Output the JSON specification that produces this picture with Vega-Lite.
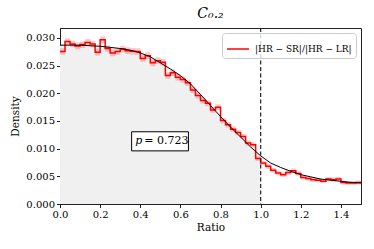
{
  "$schema": "https://vega.github.io/schema/vega-lite/v6.json",
  "width": 301,
  "height": 176,
  "autosize": {"type": "none"},
  "padding": {"left": 60, "top": 28, "right": 13, "bottom": 45},
  "background": "white",
  "title": {"text": "C₀.₂", "font": "DejaVu Serif", "fontStyle": "italic", "fontSize": 14, "fontWeight": "normal", "color": "black", "offset": 6},
  "config": {
    "font": "DejaVu Serif",
    "view": {"stroke": "#222222", "strokeWidth": 1},
    "axis": {"labelFont": "DejaVu Serif", "titleFont": "DejaVu Serif", "labelFontSize": 10, "titleFontSize": 10.5, "titleFontWeight": "normal", "labelColor": "black", "titleColor": "black", "tickColor": "#222222", "domainColor": "#222222", "tickSize": 3.5, "grid": false, "labelPadding": 2, "labelOverlap": false, "labelFlush": false},
    "legend": {"labelFont": "DejaVu Serif", "labelFontSize": 9, "labelColor": "black"}
  },
  "datasets": {
    "hist": [
      {"x": 0.000, "v": 0.02755, "err": 0.0006},
      {"x": 0.025, "v": 0.02935, "err": 0.0006},
      {"x": 0.050, "v": 0.0289, "err": 0.0006},
      {"x": 0.075, "v": 0.02857, "err": 0.0006},
      {"x": 0.100, "v": 0.0288, "err": 0.0006},
      {"x": 0.125, "v": 0.0292, "err": 0.0006},
      {"x": 0.150, "v": 0.0289, "err": 0.0006},
      {"x": 0.175, "v": 0.02744, "err": 0.0006},
      {"x": 0.200, "v": 0.02966, "err": 0.0006},
      {"x": 0.225, "v": 0.0281, "err": 0.0006},
      {"x": 0.250, "v": 0.0273, "err": 0.0006},
      {"x": 0.275, "v": 0.02755, "err": 0.0006},
      {"x": 0.300, "v": 0.0280, "err": 0.0006},
      {"x": 0.325, "v": 0.0277, "err": 0.0006},
      {"x": 0.350, "v": 0.0276, "err": 0.0006},
      {"x": 0.375, "v": 0.02755, "err": 0.0006},
      {"x": 0.400, "v": 0.0263, "err": 0.0006},
      {"x": 0.425, "v": 0.0268, "err": 0.0006},
      {"x": 0.450, "v": 0.0255, "err": 0.0006},
      {"x": 0.475, "v": 0.0259, "err": 0.0006},
      {"x": 0.500, "v": 0.0256, "err": 0.0006},
      {"x": 0.525, "v": 0.0232, "err": 0.00058},
      {"x": 0.550, "v": 0.0237, "err": 0.00058},
      {"x": 0.575, "v": 0.0229, "err": 0.00057},
      {"x": 0.600, "v": 0.0225, "err": 0.00057},
      {"x": 0.625, "v": 0.0219, "err": 0.00056},
      {"x": 0.650, "v": 0.0206, "err": 0.00055},
      {"x": 0.675, "v": 0.0196, "err": 0.00055},
      {"x": 0.700, "v": 0.0187, "err": 0.00054},
      {"x": 0.725, "v": 0.0182, "err": 0.00054},
      {"x": 0.750, "v": 0.0170, "err": 0.00053},
      {"x": 0.775, "v": 0.0175, "err": 0.00053},
      {"x": 0.800, "v": 0.0151, "err": 0.0005},
      {"x": 0.825, "v": 0.0143, "err": 0.0005},
      {"x": 0.850, "v": 0.0135, "err": 0.00049},
      {"x": 0.875, "v": 0.0129, "err": 0.00048},
      {"x": 0.900, "v": 0.0122, "err": 0.00047},
      {"x": 0.925, "v": 0.0110, "err": 0.00046},
      {"x": 0.950, "v": 0.0107, "err": 0.00045},
      {"x": 0.975, "v": 0.0082, "err": 0.00043},
      {"x": 1.000, "v": 0.0074, "err": 0.00042},
      {"x": 1.025, "v": 0.0068, "err": 0.00041},
      {"x": 1.050, "v": 0.0061, "err": 0.0004},
      {"x": 1.075, "v": 0.0056, "err": 0.0004},
      {"x": 1.100, "v": 0.0053, "err": 0.0004},
      {"x": 1.125, "v": 0.0057, "err": 0.0004},
      {"x": 1.150, "v": 0.0060, "err": 0.0004},
      {"x": 1.175, "v": 0.0055, "err": 0.0004},
      {"x": 1.200, "v": 0.0048, "err": 0.00038},
      {"x": 1.225, "v": 0.0046, "err": 0.00038},
      {"x": 1.250, "v": 0.0044, "err": 0.00038},
      {"x": 1.275, "v": 0.0043, "err": 0.00038},
      {"x": 1.300, "v": 0.0041, "err": 0.00037},
      {"x": 1.325, "v": 0.0045, "err": 0.00038},
      {"x": 1.350, "v": 0.0044, "err": 0.00038},
      {"x": 1.375, "v": 0.0045, "err": 0.00038},
      {"x": 1.400, "v": 0.0039, "err": 0.00036},
      {"x": 1.425, "v": 0.0038, "err": 0.00036},
      {"x": 1.450, "v": 0.0038, "err": 0.00036},
      {"x": 1.475, "v": 0.0039, "err": 0.00036},
      {"x": 1.500, "v": 0.0039, "err": 0.00036}
    ],
    "curve": [
      {"x": 0.0, "y": 0.0287},
      {"x": 0.05, "y": 0.0287},
      {"x": 0.1, "y": 0.0287},
      {"x": 0.15, "y": 0.0286},
      {"x": 0.2, "y": 0.0285},
      {"x": 0.25, "y": 0.0283},
      {"x": 0.3, "y": 0.0281},
      {"x": 0.35, "y": 0.0278},
      {"x": 0.4, "y": 0.0273},
      {"x": 0.45, "y": 0.0266},
      {"x": 0.5, "y": 0.0255},
      {"x": 0.55, "y": 0.0244},
      {"x": 0.6, "y": 0.0232},
      {"x": 0.65, "y": 0.0217},
      {"x": 0.7, "y": 0.0198},
      {"x": 0.75, "y": 0.0178},
      {"x": 0.8, "y": 0.0158},
      {"x": 0.85, "y": 0.0139},
      {"x": 0.9, "y": 0.0121},
      {"x": 0.95, "y": 0.0103},
      {"x": 1.0, "y": 0.0087},
      {"x": 1.05, "y": 0.0074},
      {"x": 1.1, "y": 0.0066},
      {"x": 1.15, "y": 0.0059},
      {"x": 1.2, "y": 0.0053},
      {"x": 1.25, "y": 0.0049},
      {"x": 1.3, "y": 0.0045},
      {"x": 1.35, "y": 0.0043},
      {"x": 1.4, "y": 0.0041},
      {"x": 1.45, "y": 0.0039},
      {"x": 1.5, "y": 0.0038}
    ],
    "one": [{"label": "p = 0.723"}]
  },
  "layer": [
    {
      "data": {"name": "curve"},
      "transform": [{"filter": "datum.x <= 1.0"}],
      "mark": {"type": "area", "color": "#f0f0f0", "opacity": 1},
      "encoding": {
        "x": {"field": "x", "type": "quantitative", "title": "Ratio", "scale": {"domain": [0, 1.5], "nice": false}, "axis": {"values": [0, 0.2, 0.4, 0.6, 0.8, 1.0, 1.2, 1.4], "format": ".1f", "titlePadding": 3}},
        "y": {"field": "y", "type": "quantitative", "title": "Density", "scale": {"domain": [0, 0.0318], "nice": false, "zero": true}, "axis": {"values": [0, 0.005, 0.01, 0.015, 0.02, 0.025, 0.03], "format": ".3f", "titlePadding": 5, "tickCount": 7}}
      }
    },
    {
      "data": {"name": "hist"},
      "mark": {"type": "errorband", "interpolate": "step-after", "color": "#ff0000", "opacity": 0.22},
      "encoding": {
        "x": {"field": "x", "type": "quantitative", "title": "Ratio"},
        "y": {"field": "v", "type": "quantitative", "title": "Density"},
        "yError": {"field": "err"}
      }
    },
    {
      "data": {"name": "hist"},
      "mark": {"type": "line", "interpolate": "step-after", "strokeWidth": 1.5},
      "encoding": {
        "x": {"field": "x", "type": "quantitative", "title": "Ratio"},
        "y": {"field": "v", "type": "quantitative", "title": "Density"},
        "color": {"datum": "|HR − SR|/|HR − LR|", "type": "nominal", "scale": {"range": ["#ff0000"]},
          "legend": {"title": null, "orient": "top-right", "offset": 5, "symbolType": "stroke", "symbolSize": 480, "symbolStrokeWidth": 1.5, "strokeColor": "#cccccc", "fillColor": "rgba(255,255,255,0.8)", "cornerRadius": 3, "padding": 4, "labelOffset": 5}}
      }
    },
    {
      "data": {"name": "curve"},
      "mark": {"type": "line", "color": "black", "strokeWidth": 1},
      "encoding": {
        "x": {"field": "x", "type": "quantitative", "title": "Ratio"},
        "y": {"field": "y", "type": "quantitative", "title": "Density"}
      }
    },
    {
      "data": {"name": "one"},
      "mark": {"type": "rule", "color": "#222222", "strokeWidth": 1.2, "strokeDash": [4, 2.5]},
      "encoding": {"x": {"datum": 1.0}}
    },
    {
      "data": {"name": "one"},
      "mark": {"type": "rect", "fill": "white", "stroke": "black", "strokeWidth": 1},
      "encoding": {"x": {"datum": 0.357}, "x2": {"datum": 0.64}, "y": {"datum": 0.0096}, "y2": {"datum": 0.01305}}
    },
    {
      "data": {"name": "one"},
      "mark": {"type": "text", "text": "p", "font": "DejaVu Serif", "fontStyle": "italic", "fontSize": 11, "align": "left", "baseline": "middle", "color": "black", "dx": -25},
      "encoding": {"x": {"datum": 0.5}, "y": {"datum": 0.0113}}
    },
    {
      "data": {"name": "one"},
      "mark": {"type": "text", "text": "= 0.723", "font": "DejaVu Serif", "fontSize": 11, "align": "left", "baseline": "middle", "color": "black", "dx": -16},
      "encoding": {"x": {"datum": 0.5}, "y": {"datum": 0.0113}}
    }
  ]
}
